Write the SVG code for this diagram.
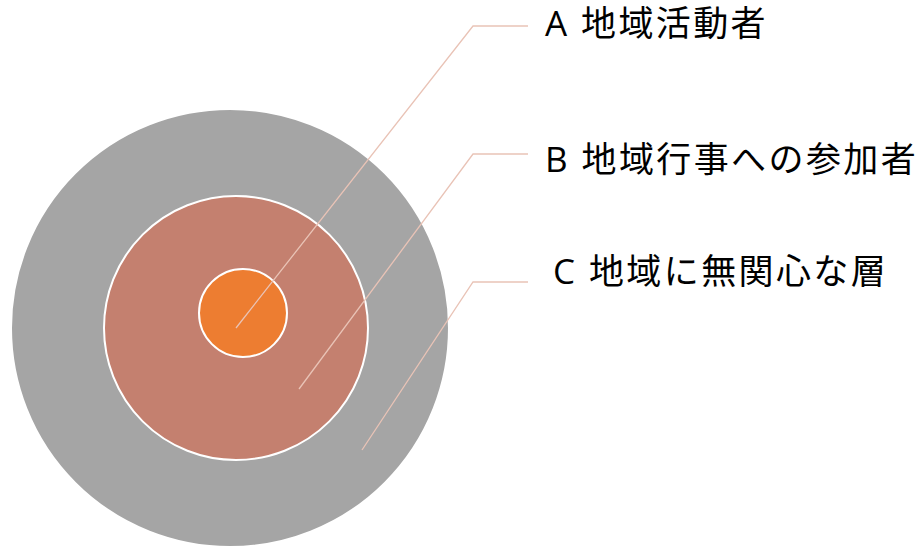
<svg xmlns="http://www.w3.org/2000/svg" width="920" height="550" viewBox="0 0 920 550">
<style>
.ring{stroke:#ffffff;stroke-width:2}
.lead{fill:none;stroke:#E9C3B6;stroke-width:1.3}
.lbl{font-family:"Open Sans","Noto Sans CJK JP",sans-serif;font-size:35px;fill:#000000;letter-spacing:2.4px}
</style>
<rect width="920" height="550" fill="#ffffff"/>
<g id="nodeC"><circle class="ring" cx="230" cy="328" r="219" fill="#A5A5A5" stroke="none"/></g>
<g id="nodeB"><circle class="ring" cx="236" cy="328" r="132" fill="#C4806F"/></g>
<g id="nodeA"><circle class="ring" cx="243" cy="313" r="44" fill="#ED7D31"/></g>
<g id="connectors">
<polyline class="lead" points="236,328 473,26 528,26"/>
<polyline class="lead" points="299,389 473,154 528,154"/>
<polyline class="lead" points="362,450 473,282 528,282"/>
</g>
<g id="labels">
<text class="lbl" x="545" y="36">A 地域活動者</text>
<text class="lbl" x="545" y="172">B 地域行事への参加者</text>
<text class="lbl" x="553" y="284">C 地域に無関心な層</text>
</g>
</svg>
